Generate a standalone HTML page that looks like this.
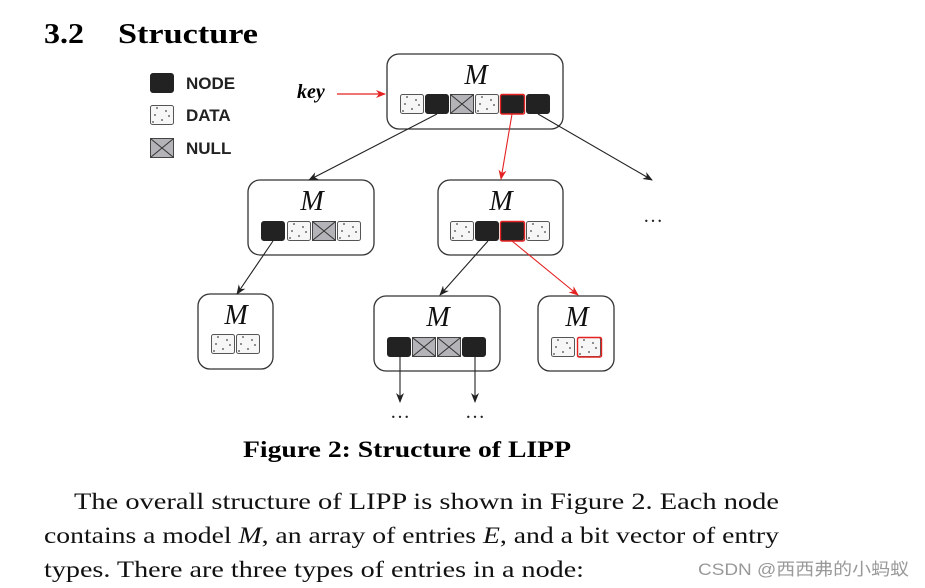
<!DOCTYPE html>
<html><head><meta charset="utf-8"><style>
html,body{margin:0;padding:0;background:#fff;}
svg{display:block;}
</style></head><body>
<svg width="925" height="588" viewBox="0 0 925 588" xmlns="http://www.w3.org/2000/svg">
<defs>
<symbol id="N" viewBox="0 0 24 20" width="24" height="20"><rect x="0.5" y="0.5" width="23" height="19" rx="2.5" fill="#222" stroke="#222"/></symbol>
<symbol id="D" viewBox="0 0 24 20" width="24" height="20"><rect x="0.5" y="0.5" width="23" height="19" rx="2" fill="#f6f6f6" stroke="#555"/><g fill="#444"><circle cx="7" cy="3" r="0.9"/><circle cx="16" cy="6" r="0.9"/><circle cx="5" cy="10" r="0.9"/><circle cx="19" cy="11" r="0.9"/><circle cx="12" cy="15" r="0.9"/><circle cx="3" cy="17" r="0.9"/></g></symbol>
<symbol id="X" viewBox="0 0 24 20" width="24" height="20"><rect x="0.5" y="0.5" width="23" height="19" fill="#b4b4b8" stroke="#444"/><path d="M1 1L23 19M23 1L1 19" stroke="#333" stroke-width="1"/></symbol>
<marker id="ab" markerWidth="10" markerHeight="8" refX="9" refY="4" orient="auto" markerUnits="userSpaceOnUse"><path d="M0 0L10 4L0 8L3 4Z" fill="#222"/></marker>
<marker id="ar" markerWidth="10" markerHeight="8" refX="9" refY="4" orient="auto" markerUnits="userSpaceOnUse"><path d="M0 0L10 4L0 8L3 4Z" fill="#e52222"/></marker>
</defs>

<text x="44" y="43" font-family="Liberation Serif, serif" font-weight="bold" font-size="29" textLength="40" lengthAdjust="spacingAndGlyphs">3.2</text>
<text x="118" y="43" font-family="Liberation Serif, serif" font-weight="bold" font-size="29" textLength="140" lengthAdjust="spacingAndGlyphs">Structure</text>

<use href="#N" x="149" y="73" width="26" height="20"/>
<use href="#D" x="149" y="105" width="26" height="20"/>
<use href="#X" x="149" y="138" width="26" height="20"/>
<g font-family="Liberation Sans, sans-serif" font-weight="bold" font-size="17" fill="#222">
<text x="186" y="89">NODE</text><text x="186" y="121">DATA</text><text x="186" y="154">NULL</text></g>

<text x="297" y="98" font-family="Liberation Serif, serif" font-style="italic" font-weight="bold" font-size="20">key</text>
<line x1="337" y1="94" x2="385" y2="94" stroke="#e52222" stroke-width="1.2" marker-end="url(#ar)"/>

<g fill="none" stroke="#333" stroke-width="1.3">
<rect x="387" y="54" width="176" height="75" rx="12"/>
<rect x="248" y="180" width="126" height="75" rx="12"/>
<rect x="438" y="180" width="125" height="75" rx="12"/>
<rect x="198" y="294" width="75" height="75" rx="12"/>
<rect x="374" y="296" width="126" height="75" rx="12"/>
<rect x="538" y="296" width="76" height="75" rx="12"/>
</g>
<g font-family="Liberation Serif, serif" font-style="italic" font-size="28" text-anchor="middle" fill="#111">
<text x="476" y="84">M</text><text x="312" y="210">M</text><text x="501" y="210">M</text>
<text x="236" y="324">M</text><text x="438" y="326">M</text><text x="577" y="326">M</text></g>

<use href="#D" x="400" y="94"/><use href="#N" x="425" y="94"/><use href="#X" x="450" y="94"/><use href="#D" x="475" y="94"/><use href="#N" x="500" y="94"/><use href="#N" x="526" y="94"/>
<rect x="500.5" y="94.5" width="24" height="19.5" rx="1.5" fill="none" stroke="#e52222" stroke-width="1.4"/>

<use href="#N" x="261" y="221"/><use href="#D" x="287" y="221"/><use href="#X" x="312" y="221"/><use href="#D" x="337" y="221"/>
<use href="#D" x="450" y="221"/><use href="#N" x="475" y="221"/><use href="#N" x="500" y="221"/><use href="#D" x="526" y="221"/>
<rect x="500.5" y="221.5" width="24" height="19.5" rx="1.5" fill="none" stroke="#e52222" stroke-width="1.4"/>

<use href="#D" x="211" y="334"/><use href="#D" x="236" y="334"/>
<use href="#N" x="387" y="337"/><use href="#X" x="412" y="337"/><use href="#X" x="437" y="337"/><use href="#N" x="462" y="337"/>
<use href="#D" x="551" y="337"/><use href="#D" x="577" y="337"/>
<rect x="577.5" y="337.5" width="24" height="19.5" rx="1.5" fill="none" stroke="#e52222" stroke-width="1.4"/>

<g stroke-width="1.1">
<line x1="437" y1="114" x2="309" y2="180" stroke="#222" marker-end="url(#ab)"/>
<line x1="512" y1="114" x2="501" y2="179" stroke="#e52222" marker-end="url(#ar)"/>
<line x1="538" y1="114" x2="652" y2="180" stroke="#222" marker-end="url(#ab)"/>
<line x1="273" y1="241" x2="237" y2="294" stroke="#222" marker-end="url(#ab)"/>
<line x1="488" y1="241" x2="440" y2="295" stroke="#222" marker-end="url(#ab)"/>
<line x1="512" y1="241" x2="578" y2="295" stroke="#e52222" marker-end="url(#ar)"/>
<line x1="400" y1="357" x2="400" y2="402" stroke="#222" marker-end="url(#ab)"/>
<line x1="475" y1="357" x2="475" y2="402" stroke="#222" marker-end="url(#ab)"/>
</g>
<g font-family="Liberation Serif, serif" font-size="20" text-anchor="middle" fill="#222">
<text x="653" y="222">…</text><text x="400" y="418">…</text><text x="475" y="418">…</text></g>

<text x="407" y="457" text-anchor="middle" font-family="Liberation Serif, serif" font-weight="bold" font-size="23" textLength="328" lengthAdjust="spacingAndGlyphs">Figure 2: Structure of LIPP</text>

<g font-family="Liberation Serif, serif" font-size="23" fill="#111">
<text x="74" y="509" textLength="705" lengthAdjust="spacingAndGlyphs">The overall structure of LIPP is shown in Figure 2. Each node</text>
<text x="44" y="543" textLength="735" lengthAdjust="spacingAndGlyphs">contains a model <tspan font-style="italic">M</tspan>, an array of entries <tspan font-style="italic">E</tspan>, and a bit vector of entry</text>
<text x="44" y="577" textLength="540" lengthAdjust="spacingAndGlyphs">types. There are three types of entries in a node:</text>
</g>
<text x="698" y="575" font-family="Liberation Sans, 'Noto Sans CJK SC', sans-serif" font-size="17" fill="#999" textLength="211" lengthAdjust="spacingAndGlyphs">CSDN @西西弗的小蚂蚁</text>
</svg>
</body></html>
